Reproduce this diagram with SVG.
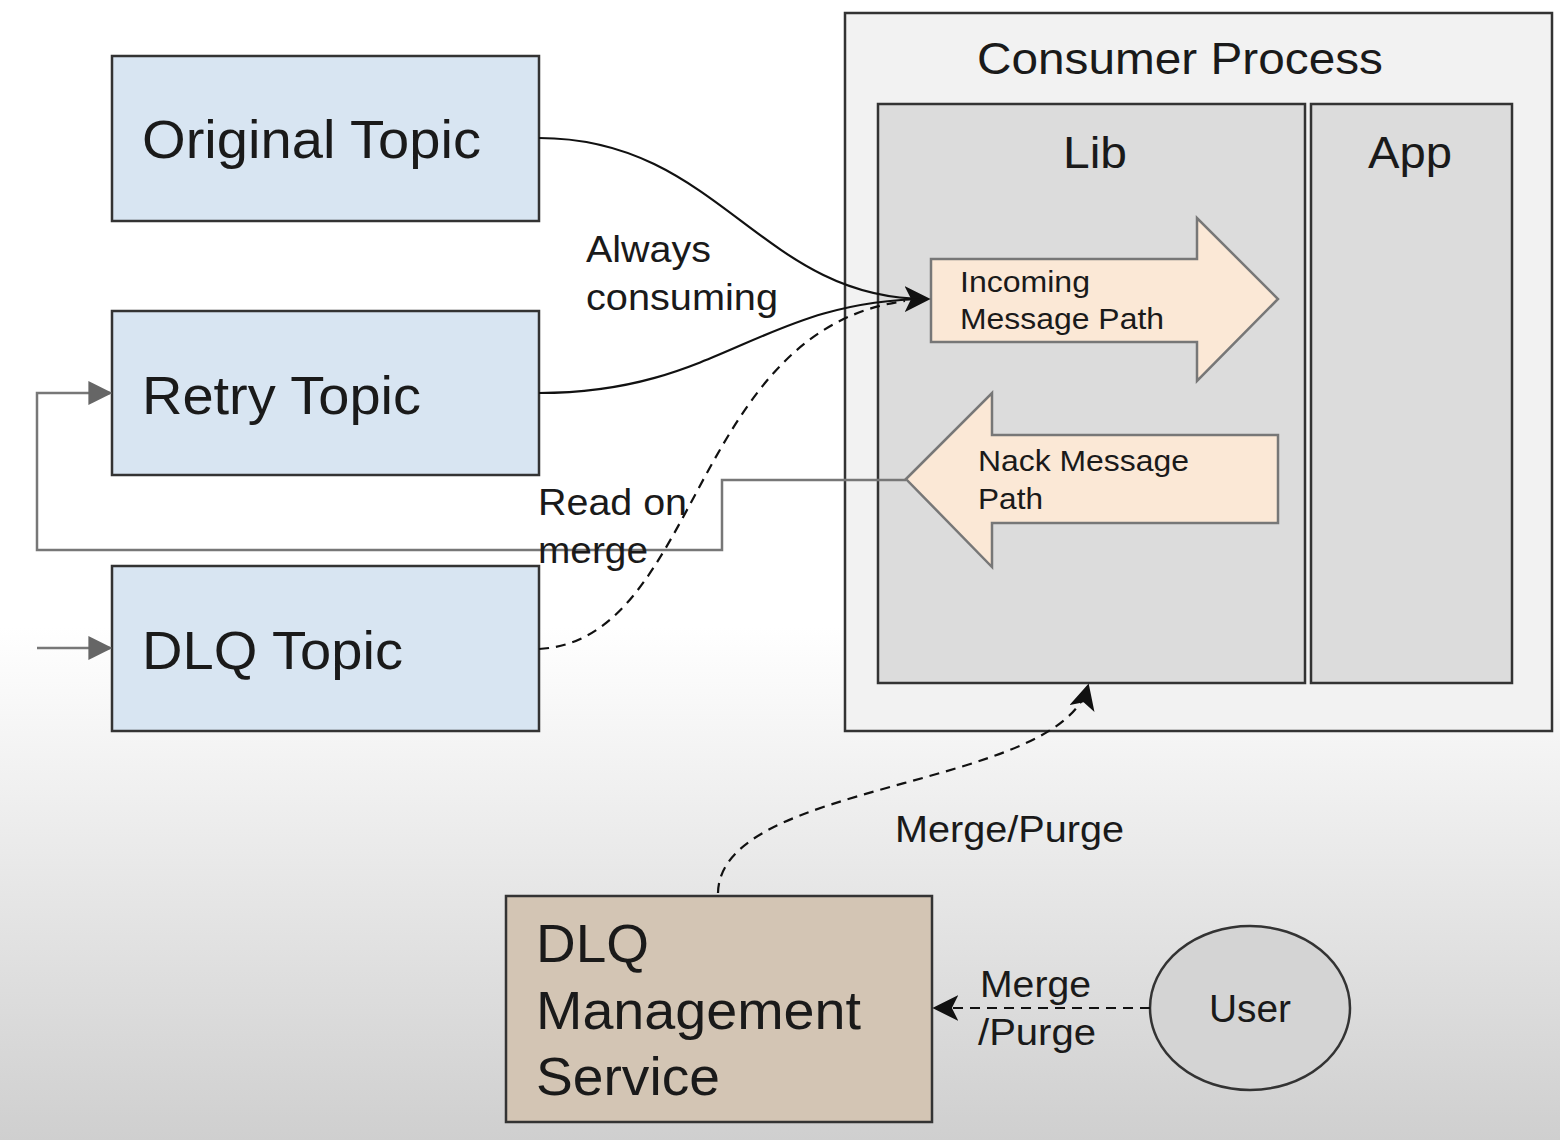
<svg xmlns="http://www.w3.org/2000/svg" width="1560" height="1140" viewBox="0 0 1560 1140">
<defs>
<linearGradient id="bg" x1="0" y1="0" x2="0" y2="1">
<stop offset="0" stop-color="#ffffff"/>
<stop offset="0.55" stop-color="#ffffff"/>
<stop offset="1" stop-color="#cfcfcf"/>
</linearGradient>
<marker id="ahb" viewBox="0 0 10 10" refX="9" refY="5" markerWidth="26" markerHeight="26" markerUnits="userSpaceOnUse" orient="auto"><path d="M0,0 L10,5 L0,10 L2.5,5 z" fill="#111"/></marker>
<marker id="ahg" viewBox="0 0 10 10" refX="9" refY="5" markerWidth="24" markerHeight="24" markerUnits="userSpaceOnUse" orient="auto"><path d="M0,0 L10,5 L0,10 z" fill="#666"/></marker>
</defs>
<style>
text{font-family:"Liberation Sans",Arial,sans-serif;fill:#1a1a1a}
.topic{fill:#d8e5f2;stroke:#333;stroke-width:2.5}
.big{font-size:54px}
.lbl{font-size:37px}
.conn{fill:none;stroke:#111;stroke-width:2.2}
.dash{stroke-dasharray:10 7}
.fat{fill:#fbe8d6;stroke:#777;stroke-width:2.5}
</style>
<rect width="1560" height="1140" fill="url(#bg)"/>

<g id="consumer-process">
<rect x="845" y="13" width="707" height="718" fill="#f2f2f2" stroke="#333" stroke-width="2.5"/>
<text x="977" y="74" font-size="44" textLength="406" lengthAdjust="spacingAndGlyphs">Consumer Process</text>
</g>
<g id="lib">
<rect x="878" y="104" width="427" height="579" fill="#dcdcdc" stroke="#333" stroke-width="2.5"/>
<text x="1063" y="168" font-size="44" textLength="64" lengthAdjust="spacingAndGlyphs">Lib</text>
</g>
<g id="app">
<rect x="1311" y="104" width="201" height="579" fill="#dcdcdc" stroke="#333" stroke-width="2.5"/>
<text x="1368" y="168" font-size="44" textLength="84" lengthAdjust="spacingAndGlyphs">App</text>
</g>
<g id="incoming-path">
<path class="fat" d="M931,259 L1197,259 L1197,218 L1278,299 L1197,381 L1197,342 L931,342 Z"/>
<text x="960" y="292" font-size="30" textLength="130" lengthAdjust="spacingAndGlyphs">Incoming</text>
<text x="960" y="329" font-size="30" textLength="204" lengthAdjust="spacingAndGlyphs">Message Path</text>
</g>
<g id="nack-path">
<path class="fat" d="M906,479 L992,393 L992,435 L1278,435 L1278,523 L992,523 L992,567 Z"/>
<text x="978" y="471" font-size="30" textLength="211" lengthAdjust="spacingAndGlyphs">Nack Message</text>
<text x="978" y="509" font-size="30" textLength="65" lengthAdjust="spacingAndGlyphs">Path</text>
</g>

<g id="original-topic">
<rect class="topic" x="112" y="56" width="427" height="165"/>
<text class="big" x="142" y="158" textLength="339" lengthAdjust="spacingAndGlyphs">Original Topic</text>
</g>
<g id="retry-topic">
<rect class="topic" x="112" y="311" width="427" height="164"/>
<text class="big" x="142" y="414" textLength="279" lengthAdjust="spacingAndGlyphs">Retry Topic</text>
</g>
<g id="dlq-topic">
<rect class="topic" x="112" y="566" width="427" height="165"/>
<text class="big" x="142" y="669" textLength="261" lengthAdjust="spacingAndGlyphs">DLQ Topic</text>
</g>
<g id="dlq-management-service">
<rect x="506" y="896" width="426" height="226" fill="#d3c5b4" stroke="#333" stroke-width="2.5"/>
<text class="big" x="536" y="962" textLength="113" lengthAdjust="spacingAndGlyphs">DLQ</text>
<text class="big" x="536" y="1029" textLength="325" lengthAdjust="spacingAndGlyphs">Management</text>
<text class="big" x="536" y="1095" textLength="184" lengthAdjust="spacingAndGlyphs">Service</text>
</g>
<g id="user">
<ellipse cx="1250" cy="1008" rx="100" ry="82" fill="#d4d4d4" stroke="#333" stroke-width="2.5"/>
<text x="1209" y="1022" font-size="38" textLength="82" lengthAdjust="spacingAndGlyphs">User</text>
</g>

<g id="connectors">
<path class="conn" d="M539,138 C720,138 760,300 928,299" marker-end="url(#ahb)"/>
<path class="conn" d="M539,393 C720,393 760,300 928,299"/>
<path class="conn dash" d="M539,649 C700,640 690,330 905,301"/>
<path fill="none" stroke="#777" stroke-width="2.5" d="M906,480 L722,480 L722,550 L37,550 L37,393 L110,393" marker-end="url(#ahg)"/>
<path fill="none" stroke="#777" stroke-width="2.5" d="M37,648 L110,648" marker-end="url(#ahg)"/>
<path class="conn dash" d="M718,893 C720,780 1060,790 1088,686" marker-end="url(#ahb)"/>
<path class="conn dash" d="M1150,1008 L935,1008" marker-end="url(#ahb)"/>
<text class="lbl" x="586" y="262" textLength="125" lengthAdjust="spacingAndGlyphs">Always</text>
<text class="lbl" x="586" y="310" textLength="192" lengthAdjust="spacingAndGlyphs">consuming</text>
<text class="lbl" x="538" y="515" textLength="149" lengthAdjust="spacingAndGlyphs">Read on</text>
<text class="lbl" x="538" y="563" textLength="110" lengthAdjust="spacingAndGlyphs">merge</text>
<text class="lbl" x="895" y="842" textLength="229" lengthAdjust="spacingAndGlyphs">Merge/Purge</text>
<text class="lbl" x="980" y="997" textLength="111" lengthAdjust="spacingAndGlyphs">Merge</text>
<text class="lbl" x="978" y="1045" textLength="118" lengthAdjust="spacingAndGlyphs">/Purge</text>
</g>
</svg>
